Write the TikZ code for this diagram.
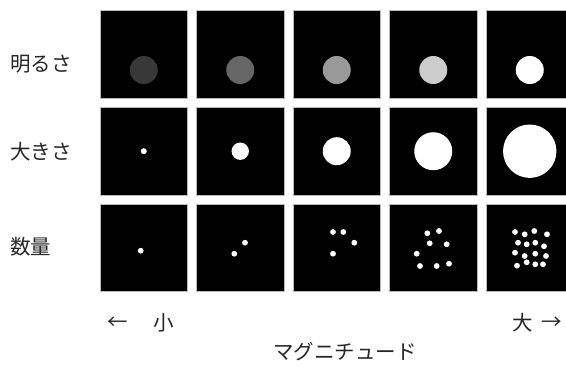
\documentclass[tikz,border=0pt]{standalone}
\usepackage{fontspec}
\setmainfont{Noto Sans CJK JP}
\begin{document}
\begin{tikzpicture}[x=1pt,y=-1pt,
  cell/.style={draw=gray!55, line width=0.7pt, fill=black, minimum size=87.5pt, inner sep=0pt, outer sep=0pt},
  disc/.style={circle, fill=#1, draw=none, inner sep=0pt},
  lab/.style={font=\fontsize{20.5}{24}\selectfont, text=black!85, inner sep=0pt}]
\clip (0,0) rectangle (566,367);
\fill[white] (0,0) rectangle (566,367);
% cells
\foreach \y [count=\r] in {54.5,151.2,248}{
  \foreach \x [count=\i] in {143.75,240.25,336.75,433.25,529.75}{
    \node[cell] (c\r-\i) at (\x,\y) {};
  }
}
% row 1: brightness
\foreach \g [count=\i] in {22,40,60,80,100}{
  \node[disc=white!\g!black, minimum size=28pt] (l\i) at ([yshift=-15.5pt]c1-\i.center) {};
}
% row 2: size
\foreach \d [count=\i] in {6,17.4,28,38,53.4}{
  \node[disc=white, minimum size=\d pt] (s\i) at (c2-\i.center) {};
}
% row 3: number
\foreach \p in {(140.7,250.7),
  (245,242.7),(234.3,253.7),
  (333,232),(343.3,232),(354.3,242.7),(333,253.7),
  (427.3,233.3),(439,231),(429.7,243.3),(446.7,244.3),(416.7,253.7),(420,266),(436.7,266),(449,263.7),
  (515,232),(524.7,234.3),(534.3,231),(547,234.3),
  (518,242.7),(526.7,244.3),(535.3,242.7),(544,246.3),
  (515,252.7),(524.7,256),(535.3,253.7),(546,256),
  (517,265.7),(526.7,262.3),(535.3,264.3),(543,264.3)}{
  \fill[white] \p circle (2.9);
}
% labels
\node[lab, anchor=west] (tb) at (10,64) {明るさ};
\node[lab, anchor=west] (ts) at (10,151.5) {大きさ};
\node[lab, anchor=west] (tn) at (10,247) {数量};
\node[lab] (al) at (118,323) {←};
\node[lab] (sm) at (163.5,323) {小};
\node[lab] (lg) at (523,323) {大};
\node[lab] (ar) at (551.5,323) {→};
\node[lab] (mg) at (344.8,352) {マグニチュード};
\end{tikzpicture}
\end{document}
